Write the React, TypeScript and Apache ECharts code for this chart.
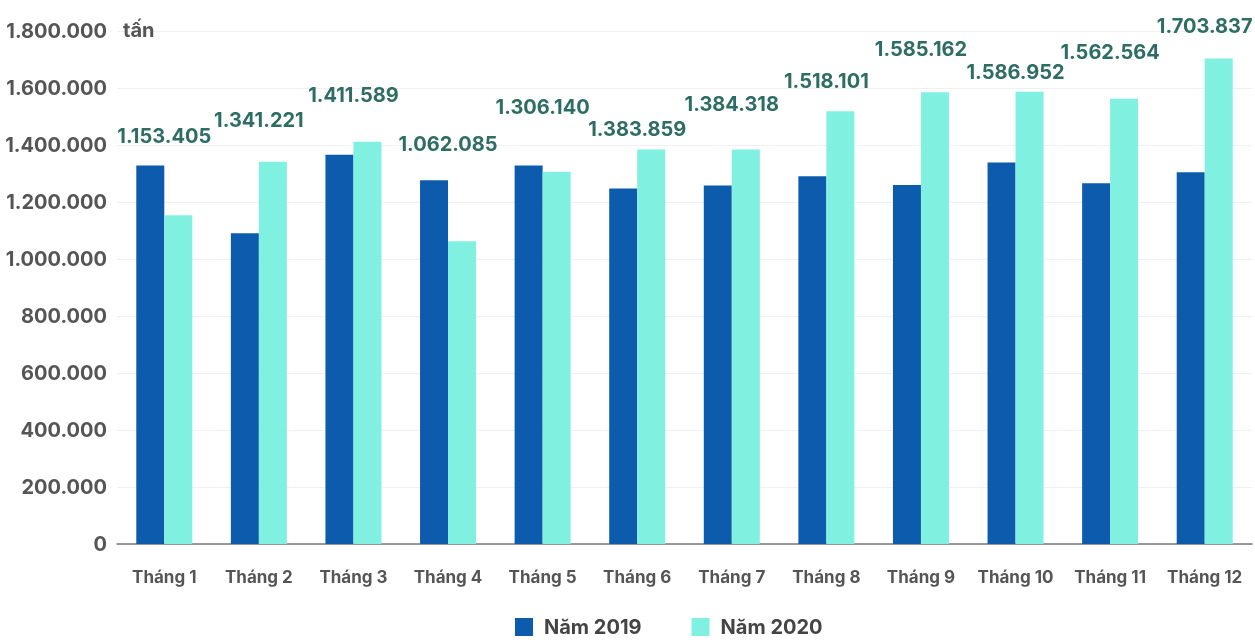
import React, { useEffect, useRef } from "react";
import * as echarts from "echarts";

const months = ["Tháng 1", "Tháng 2", "Tháng 3", "Tháng 4", "Tháng 5", "Tháng 6", "Tháng 7", "Tháng 8", "Tháng 9", "Tháng 10", "Tháng 11", "Tháng 12"];
const values2019 = [1328000, 1090000, 1366000, 1276000, 1328000, 1247000, 1258000, 1290000, 1260000, 1339000, 1266000, 1304000];
const values2020 = [1153405, 1341221, 1411589, 1062085, 1306140, 1383859, 1384318, 1518101, 1585162, 1586952, 1562564, 1703837];
const yTicks = { min: 0, max: 1800000, interval: 200000 };
const unitLabel = "tấn";
const seriesNames = ["Năm 2019", "Năm 2020"];

// label vertical offsets (style only)
const labelDy = [-69, -32, -37, -87, -55, -11, -35, -20, -33, -10, -37, -22];

const fmt = (v: number) => String(Math.round(v)).replace(/\B(?=(\d{3})+(?!\d))/g, ".");

const FONT = "Inter, 'Noto Sans', sans-serif";

export default function App() {
  const ref = useRef<HTMLDivElement>(null);
  useEffect(() => {
    if (!ref.current) return;
    const chart = echarts.init(ref.current, undefined, { renderer: "svg" });
    chart.setOption({
      animation: false,
      textStyle: { fontFamily: FONT },
      grid: { left: 117, right: 3, top: 31, bottom: 96, containLabel: false },
      legend: {
        data: seriesNames,
        top: 616,
        left: 515,
        padding: 0,
        itemWidth: 18,
        itemHeight: 18,
        itemGap: 50,
        icon: "rect",
        textStyle: { fontSize: 20, fontWeight: 700, color: "#444", fontFamily: FONT, lineHeight: 22, padding: [0, 0, 0, 6] },
      },
      xAxis: {
        type: "category",
        data: months,
        axisTick: { show: false },
        axisLine: { lineStyle: { color: "#777", width: 1.5 } },
        axisLabel: { color: "#555", fontSize: 17, fontWeight: 700, margin: 24, fontFamily: FONT, interval: 0 },
      },
      yAxis: {
        type: "value",
        min: yTicks.min,
        max: yTicks.max,
        interval: yTicks.interval,
        name: unitLabel,
        nameLocation: "end",
        nameGap: -9,
        nameTextStyle: { color: "#555", fontSize: 20, fontWeight: 700, fontFamily: FONT, align: "left", padding: [0, 0, 0, 6] },
        axisLabel: { color: "#555", fontSize: 20, fontWeight: 700, margin: 10, fontFamily: FONT, formatter: (v: number) => fmt(v) },
        splitLine: { lineStyle: { color: "#f0f0f0", width: 1 } },
        axisLine: { show: false },
        axisTick: { show: false },
      },
      series: [
        {
          name: seriesNames[0],
          type: "bar",
          data: values2019,
          barWidth: 28,
          barGap: "0%",
          itemStyle: { color: "#0C5BAD" },
        },
        {
          name: seriesNames[1],
          type: "bar",
          data: values2020.map((v, i) => ({
            value: v,
            label: { offset: [-14, labelDy[i]] },
          })),
          barWidth: 28,
          itemStyle: { color: "#80F0E0" },
          label: {
            show: true,
            position: "top",
            distance: 0,
            color: "#2E6D64",
            fontSize: 20,
            fontWeight: 700,
            lineHeight: 20,
            fontFamily: FONT,
            formatter: (p: any) => fmt(p.value),
          },
        },
      ],
    });
    return () => chart.dispose();
  }, []);
  return <div ref={ref} style={{ position: "fixed", left: 0, top: 0, width: 1255, height: 640 }} />;
}
